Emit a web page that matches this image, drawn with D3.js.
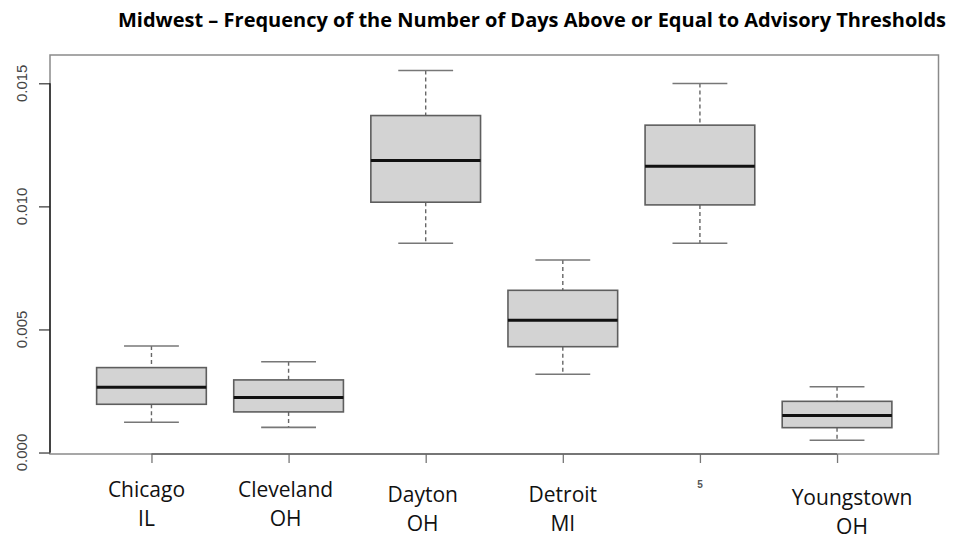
<!DOCTYPE html>
<html lang="en">
<head>
<meta charset="UTF-8">
<title>Midwest boxplot</title>
<script src="https://cdn.jsdelivr.net/npm/d3@7"></script>
<style>
  body { margin: 0; background: #fff; }
</style>
</head>
<body>
<script>
    // data
    var cities   = ["Chicago", "Cleveland", "Dayton", "Detroit", "5", "Youngstown"];
    var states   = ["IL", "OH", "OH", "MI", "", "OH"];
    var lowWhisker  = [0.00123, 0.00102, 0.00850, 0.00318, 0.00850, 0.00050];
    var q1          = [0.00196, 0.00165, 0.01017, 0.00430, 0.01006, 0.00101];
    var median      = [0.00265, 0.00224, 0.01186, 0.00537, 0.01163, 0.00150];
    var q3          = [0.00345, 0.00295, 0.01369, 0.00659, 0.01330, 0.00208];
    var highWhisker = [0.00433, 0.00369, 0.01552, 0.00782, 0.01499, 0.00267];
    var yTicks = [0, 0.005, 0.010, 0.015];

    var width = 954, height = 539;
    var plotL = 50, plotR = 938.5, plotT = 55, plotB = 454;

    var svg = d3.select("body").append("svg")
        .attr("width", width)
        .attr("height", height);

    var x = d3.scaleLinear().domain([0.26, 6.74]).range([plotL, plotR]);
    var y = d3.scaleLinear().domain([-0.00006, 0.01615]).range([plotB, plotT]);

    var rows = cities.map(function (c, i) {
        return { i: i + 1, lo: lowWhisker[i], q1: q1[i], med: median[i], q3: q3[i], hi: highWhisker[i] };
    });

    var boxW = x(1.4) - x(1);   // half box width (0.8 total)
    var capW = x(1.2) - x(1);   // half staple width

    // title
    svg.append("text")
        .attr("x", 118).attr("y", 27)
        .attr("textLength", 828).attr("lengthAdjust", "spacingAndGlyphs")
        .style("font-family", "'Open Sans', sans-serif")
        .style("font-weight", "bold")
        .style("font-size", "20px")
        .attr("fill", "#000")
        .text("Midwest \u2013 Frequency of the Number of Days Above or Equal to Advisory Thresholds");

    // plot frame
    svg.append("rect")
        .attr("x", plotL).attr("y", plotT)
        .attr("width", plotR - plotL).attr("height", plotB - plotT)
        .attr("fill", "none").attr("stroke", "#8a8a8a").attr("stroke-width", 1.5);

    var g = svg.selectAll("g.box").data(rows).enter().append("g").attr("class", "box");

    // whiskers (dashed)
    g.append("line")
        .attr("x1", function (d) { return x(d.i); }).attr("x2", function (d) { return x(d.i); })
        .attr("y1", function (d) { return y(d.hi); }).attr("y2", function (d) { return y(d.q3); })
        .attr("stroke", "#666").attr("stroke-width", 1.4).attr("stroke-dasharray", "4,3");
    g.append("line")
        .attr("x1", function (d) { return x(d.i); }).attr("x2", function (d) { return x(d.i); })
        .attr("y1", function (d) { return y(d.q1); }).attr("y2", function (d) { return y(d.lo); })
        .attr("stroke", "#666").attr("stroke-width", 1.4).attr("stroke-dasharray", "4,3");

    // staples
    g.append("line")
        .attr("x1", function (d) { return x(d.i) - capW; }).attr("x2", function (d) { return x(d.i) + capW; })
        .attr("y1", function (d) { return y(d.hi); }).attr("y2", function (d) { return y(d.hi); })
        .attr("stroke", "#777").attr("stroke-width", 1.6);
    g.append("line")
        .attr("x1", function (d) { return x(d.i) - capW; }).attr("x2", function (d) { return x(d.i) + capW; })
        .attr("y1", function (d) { return y(d.lo); }).attr("y2", function (d) { return y(d.lo); })
        .attr("stroke", "#777").attr("stroke-width", 1.6);

    // boxes
    g.append("rect")
        .attr("x", function (d) { return x(d.i) - boxW; })
        .attr("y", function (d) { return y(d.q3); })
        .attr("width", boxW * 2)
        .attr("height", function (d) { return y(d.q1) - y(d.q3); })
        .attr("fill", "#d3d3d3").attr("stroke", "#5e5e5e").attr("stroke-width", 1.6);

    // medians
    g.append("line")
        .attr("x1", function (d) { return x(d.i) - boxW; }).attr("x2", function (d) { return x(d.i) + boxW; })
        .attr("y1", function (d) { return y(d.med); }).attr("y2", function (d) { return y(d.med); })
        .attr("stroke", "#111").attr("stroke-width", 3);

    // y axis, R style (line only spans the ticks)
    var yAxis = d3.axisLeft(y).tickValues(yTicks).tickSize(11).tickFormat("");
    var ya = svg.append("g").attr("transform", "translate(" + plotL + ",0)").call(yAxis);
    ya.select(".domain").remove();
    ya.selectAll(".tick line").attr("stroke", "#333").attr("stroke-width", 1.2);
    svg.append("line")
        .attr("x1", plotL).attr("x2", plotL)
        .attr("y1", y(yTicks[0])).attr("y2", y(yTicks[yTicks.length - 1]))
        .attr("stroke", "#222").attr("stroke-width", 1.5);

    svg.selectAll("text.ylab").data(yTicks).enter().append("text")
        .attr("class", "ylab")
        .attr("transform", function (d) { return "translate(27," + y(d) + ") rotate(-90)"; })
        .attr("text-anchor", "middle")
        .style("font-family", "'Liberation Sans', Arial, sans-serif")
        .style("font-size", "15px")
        .attr("fill", "#444")
        .text(function (d) { return d3.format(".3f")(d); });

    // x axis ticks
    var xa = svg.append("g").attr("transform", "translate(0," + plotB + ")")
        .call(d3.axisBottom(x).tickValues(d3.range(1, 7)).tickSize(9).tickFormat(""));
    xa.select(".domain").remove();
    xa.selectAll(".tick line").attr("stroke", "#777").attr("stroke-width", 1.3);
    svg.append("line")
        .attr("x1", x(1)).attr("x2", x(6))
        .attr("y1", plotB).attr("y2", plotB)
        .attr("stroke", "#666").attr("stroke-width", 1.5);

    // category labels (pasted text boxes, slightly off the ticks)
    var nudgeX = [-5, -3, -3, 0, 0, 15];
    var nudgeY = [0, 0, 5, 5, 0, 8];
    cities.forEach(function (c, k) {
        if (states[k] === "") {
            svg.append("text")
                .attr("x", x(k + 1)).attr("y", 488)
                .attr("text-anchor", "middle")
                .style("font-family", "'Liberation Sans', Arial, sans-serif")
                .style("font-size", "10px").style("font-weight", "bold")
                .attr("fill", "#555")
                .text(c);
            return;
        }
        var t = svg.append("text")
            .attr("text-anchor", "middle")
            .style("font-family", "'Open Sans', sans-serif")
            .style("font-size", "21px")
            .attr("fill", "#111");
        t.append("tspan").attr("x", x(k + 1) + nudgeX[k]).attr("y", 497 + nudgeY[k]).text(c);
        t.append("tspan").attr("x", x(k + 1) + nudgeX[k]).attr("y", 526 + nudgeY[k]).text(states[k]);
    });
</script>
</body>
</html>
